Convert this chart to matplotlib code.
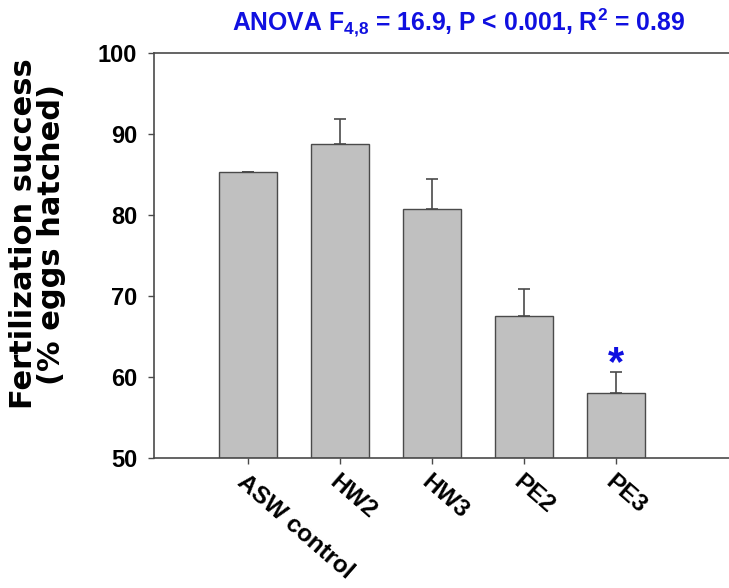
import matplotlib
matplotlib.use('Agg')
import matplotlib.pyplot as plt

plt.rcParams['font.family'] = ['Liberation Sans', 'DejaVu Sans']
plt.rcParams['mathtext.fontset'] = 'custom'
plt.rcParams['mathtext.bf'] = 'Liberation Sans:bold'
plt.rcParams['mathtext.rm'] = 'Liberation Sans:bold'
plt.rcParams['mathtext.default'] = 'bf'

# Data
groups = ["ASW control", "HW2", "HW3", "PE2", "PE3"]
means = [85.3, 88.7, 80.7, 67.5, 58.0]
sem = [0.0, 3.1, 3.7, 3.4, 2.6]
signif = [False, False, False, False, True]

line_col = "#4a4a4a"
blue = "#1010e0"

fig = plt.figure(figsize=(7.29, 5.88), dpi=100)
ax = fig.add_axes([0.211, 0.221, 0.789, 0.689])

x = list(range(len(groups)))
ax.bar(x, [m - 50 for m in means], bottom=50, width=0.63,
       color="#c0c0c0", edgecolor=line_col, linewidth=1.0, zorder=2)
ax.errorbar(x, means, yerr=[[0] * len(sem), sem], fmt="none",
            ecolor=line_col, elinewidth=1.2, capsize=4.5, capthick=1.2, zorder=1)

# significance star above the error bar
for xi, m, s, sig in zip(x, means, sem, signif):
    if sig:
        ax.text(xi, m + s - 0.4, "*", color=blue, fontsize=30,
                fontweight="bold", ha="center", va="baseline")

ax.set_xlim(-1.02, 5.23)
ax.set_ylim(50, 100)
ax.set_yticks([50, 60, 70, 80, 90, 100])
ax.set_xticks(x)
ax.set_xticklabels(groups, rotation=-41, ha="left", va="top",
                   rotation_mode="anchor", fontsize=17.5, fontweight="bold")
for lbl in ax.get_yticklabels():
    lbl.set_fontsize(17)
    lbl.set_fontweight("bold")

ax.tick_params(axis="both", direction="out", length=4, width=1.0, color=line_col)
ax.tick_params(axis="x", pad=5)
ax.tick_params(axis="y", pad=8)

ax.spines["right"].set_visible(False)
for sp in ["left", "top", "bottom"]:
    ax.spines[sp].set_color(line_col)
    ax.spines[sp].set_linewidth(1.2)

ax.set_ylabel("Fertilization success\n(% eggs hatched)", fontsize=22,
              fontweight="bold", linespacing=0.95, family="DejaVu Sans")
ax.yaxis.set_label_coords(-0.153, 0.553)
ax.set_title(r"ANOVA F$_{4{,}8}$ = 16.9, P < 0.001, R$^2$ = 0.89",
             color=blue, fontsize=17.8, fontweight="bold", pad=16.5, x=0.529)

fig.savefig("out.png", dpi=100)
